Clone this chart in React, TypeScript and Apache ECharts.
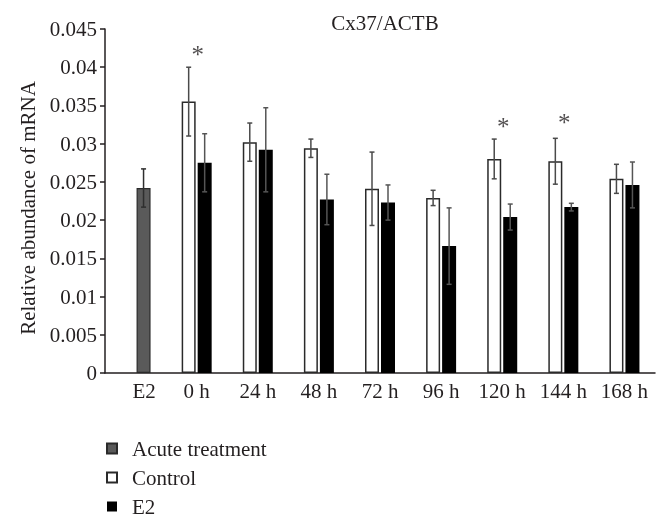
import React, { useEffect, useRef } from "react";
import * as echarts from "echarts";

const categories = ["E2", "0 h", "24 h", "48 h", "72 h", "96 h", "120 h", "144 h", "168 h"];
const acuteValues = [0.0242, null, null, null, null, null, null, null, null];
const acuteErrors = [0.0025, null, null, null, null, null, null, null, null];
const controlValues = [null, 0.0355, 0.0302, 0.0294, 0.0241, 0.0229, 0.028, 0.0277, 0.0254];
const controlErrors = [null, 0.0045, 0.0025, 0.0012, 0.0048, 0.001, 0.0026, 0.003, 0.0019];
const e2Values = [null, 0.0275, 0.0292, 0.0227, 0.0223, 0.0166, 0.0204, 0.0217, 0.0246];
const e2Errors = [null, 0.0038, 0.0055, 0.0033, 0.0023, 0.005, 0.0017, 0.0005, 0.003];
const sigCategories = ["0 h", "120 h", "144 h"];
const sigPositions = [0.042, 0.0327, 0.0332];

const FONT = "Liberation Serif";
const TEXT = "#231f20";
const BAR_W = 14;
const BAR_GAP = 2;
const OFFSET = (BAR_W + BAR_GAP) / 2;

function errData(values: (number | null)[], errs: (number | null)[]) {
  const out: number[][] = [];
  values.forEach((v, i) => {
    if (v != null && errs[i] != null) out.push([i, v, errs[i] as number]);
  });
  return out;
}

function errSeries(values: (number | null)[], errs: (number | null)[], dx: number, color: string) {
  return {
    type: "custom",
    name: "err",
    z: 5,
    silent: true,
    data: errData(values, errs),
    renderItem: (params: any, api: any) => {
      const i = api.value(0);
      const v = api.value(1);
      const e = api.value(2);
      const top = api.coord([i, v + e]);
      const bot = api.coord([i, v - e]);
      const x = top[0] + dx;
      const cap = 2.5;
      const style = { stroke: color, lineWidth: 1.5 };
      return {
        type: "group",
        children: [
          { type: "line", shape: { x1: x, y1: top[1], x2: x, y2: bot[1] }, style },
          { type: "line", shape: { x1: x - cap, y1: top[1], x2: x + cap, y2: top[1] }, style },
          { type: "line", shape: { x1: x - cap, y1: bot[1], x2: x + cap, y2: bot[1] }, style },
        ],
      };
    },
  };
}

export default function App() {
  const ref = useRef<HTMLDivElement>(null);
  useEffect(() => {
    if (!ref.current) return;
    const chart = echarts.init(ref.current, null, { renderer: "svg" });
    const option: any = {
      animation: false,
      textStyle: { fontFamily: FONT, color: TEXT },
      title: {
        text: "Cx37/ACTB",
        left: 380,
        textAlign: "center",
        top: 7,
        textStyle: { fontFamily: FONT, fontSize: 21, fontWeight: "normal", color: TEXT },
      },
      grid: { left: 105, right: 15, top: 29, bottom: 150, containLabel: false },
      legend: {
        orient: "vertical",
        left: 106,
        top: 438,
        padding: 0,
        icon: "rect",
        itemWidth: 10,
        itemHeight: 10,
        itemGap: 8,
        data: ["Acute treatment", "Control", "E2"],
        textStyle: { fontFamily: FONT, fontSize: 21, color: TEXT, lineHeight: 21, padding: [0, 0, 0, 10] },
      },
      graphic: [
        {
          type: "text",
          x: 28,
          y: 208,
          rotation: Math.PI / 2,
          style: {
            text: "Relative abundance of mRNA",
            fontFamily: FONT,
            fontSize: 21,
            fill: TEXT,
            align: "center",
            verticalAlign: "middle",
          },
        },
      ],
      xAxis: {
        type: "category",
        data: categories,
        axisLine: { lineStyle: { color: TEXT, width: 1.5 } },
        axisTick: { alignWithLabel: true, length: 4, lineStyle: { color: TEXT, width: 1.5 } },
        axisLabel: {
          interval: 0,
          fontFamily: FONT,
          fontSize: 21,
          color: TEXT,
          margin: 7,
          formatter: (v: string, i: number) => (i === 0 ? `{e|${v}}` : v),
          rich: { e: { fontFamily: FONT, fontSize: 21, color: TEXT, padding: [0, 0, 0, 17] } },
        },
      },
      yAxis: {
        type: "value",
        min: 0,
        max: 0.045,
        interval: 0.005,
        axisLine: { show: true, lineStyle: { color: TEXT, width: 1.5 } },
        axisTick: { show: true, length: 5, lineStyle: { color: TEXT, width: 1.5 } },
        splitLine: { show: false },
        axisLabel: { fontFamily: FONT, fontSize: 21, color: TEXT, margin: 8 },
      },
      series: [
        {
          name: "Control",
          type: "bar",
          data: controlValues,
          barWidth: BAR_W,
          barGap: `${(BAR_GAP / BAR_W) * 100}%`,
          itemStyle: { color: "#ffffff", borderColor: "#2a2a2a", borderWidth: 1.5 },
        },
        {
          name: "Acute treatment",
          type: "bar",
          stack: "treat",
          data: acuteValues,
          barWidth: BAR_W,
          itemStyle: { color: "#5a5a5a", borderColor: "#2a2a2a", borderWidth: 1.2 },
        },
        {
          name: "E2",
          type: "bar",
          stack: "treat",
          data: e2Values,
          barWidth: BAR_W,
          itemStyle: { color: "#000000", borderColor: "#000000", borderWidth: 0 },
        },
        errSeries(acuteValues, acuteErrors, OFFSET, "#2e2e2e"),
        errSeries(controlValues, controlErrors, -OFFSET, "#4a4a4a"),
        errSeries(e2Values, e2Errors, OFFSET, "#555555"),
        {
          type: "scatter",
          name: "sig",
          data: sigCategories.map((c, i) => [c, sigPositions[i]]),
          symbolSize: 1,
          itemStyle: { color: "rgba(0,0,0,0)" },
          silent: true,
          z: 6,
          label: {
            show: true,
            position: "inside",
            formatter: "*",
            fontFamily: FONT,
            fontSize: 25,
            color: TEXT,
            offset: [1, 3],
          },
        },
      ],
    };
    chart.setOption(option);
    return () => chart.dispose();
  }, []);
  return <div ref={ref} style={{ position: "fixed", left: 0, top: 0, width: 670, height: 523 }} />;
}
